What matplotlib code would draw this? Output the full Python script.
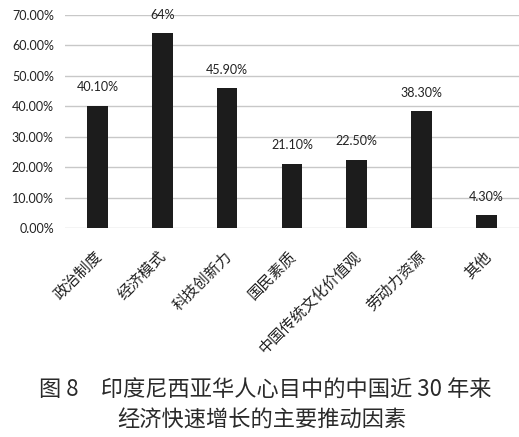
import matplotlib
matplotlib.use("Agg")
import matplotlib.pyplot as plt
import matplotlib.transforms as mtransforms
from matplotlib.ticker import FuncFormatter, MultipleLocator

plt.rcParams['font.family'] = ['Lato', 'Noto Sans CJK SC', 'DejaVu Sans']

categories = ["政治制度", "经济模式", "科技创新力", "国民素质", "中国传统文化价值观", "劳动力资源", "其他"]
values = [40.10, 64, 45.90, 21.10, 22.50, 38.30, 4.30]
value_labels = ["40.10%", "64%", "45.90%", "21.10%", "22.50%", "38.30%", "4.30%"]
caption_1 = "图 8　印度尼西亚华人心目中的中国近 30 年来"
caption_2 = "经济快速增长的主要推动因素"

fig = plt.figure(figsize=(5.19, 4.37), dpi=100)
ax = fig.add_axes([0.125, 0.478, 0.875, 0.488])

x = range(len(categories))
ax.bar(x, values, width=0.32, color="#1c1c1c", zorder=3)
for xi, v, lab in zip(x, values, value_labels):
    ax.annotate(lab, (xi, v), xytext=(0, 9), textcoords="offset points",
                ha="center", va="bottom", fontsize=9, color="#222222")

ax.set_xlim(-0.5, len(categories) - 0.5)
ax.set_ylim(0, 70)
ax.yaxis.set_major_locator(MultipleLocator(10))
ax.yaxis.set_major_formatter(FuncFormatter(lambda v, p: f"{v:.2f}%"))
ax.grid(axis="y", color="#c8c8c8", linewidth=1, zorder=0)
for s in ax.spines.values():
    s.set_visible(False)
ax.tick_params(axis="both", length=0, labelsize=9, colors="#222222")
ax.tick_params(axis="y", pad=8)
ax.tick_params(axis="x", pad=0)

# rotated category labels, nudged so their upper end sits just right of each bar
ax.set_xticks(list(x))
ax.set_xticklabels(categories, rotation=45, ha="right", va="center", rotation_mode="anchor",
                   fontsize=11, family=['Noto Sans CJK SC', 'DejaVu Sans'])
offset = mtransforms.ScaledTranslation(2 / 100, -26 / 100, fig.dpi_scale_trans)
for lbl in ax.get_xticklabels():
    lbl.set_transform(lbl.get_transform() + offset)

cjk = ['Noto Sans CJK SC', 'DejaVu Sans']
fig.text(265 / 519, 1 - 390 / 437, caption_1, ha="center", va="center", fontsize=16,
         color="#2a2a2a", family=cjk)
fig.text(262 / 519, 1 - 420 / 437, caption_2, ha="center", va="center", fontsize=16,
         color="#2a2a2a", family=cjk)

fig.savefig("out.png", dpi=100)
